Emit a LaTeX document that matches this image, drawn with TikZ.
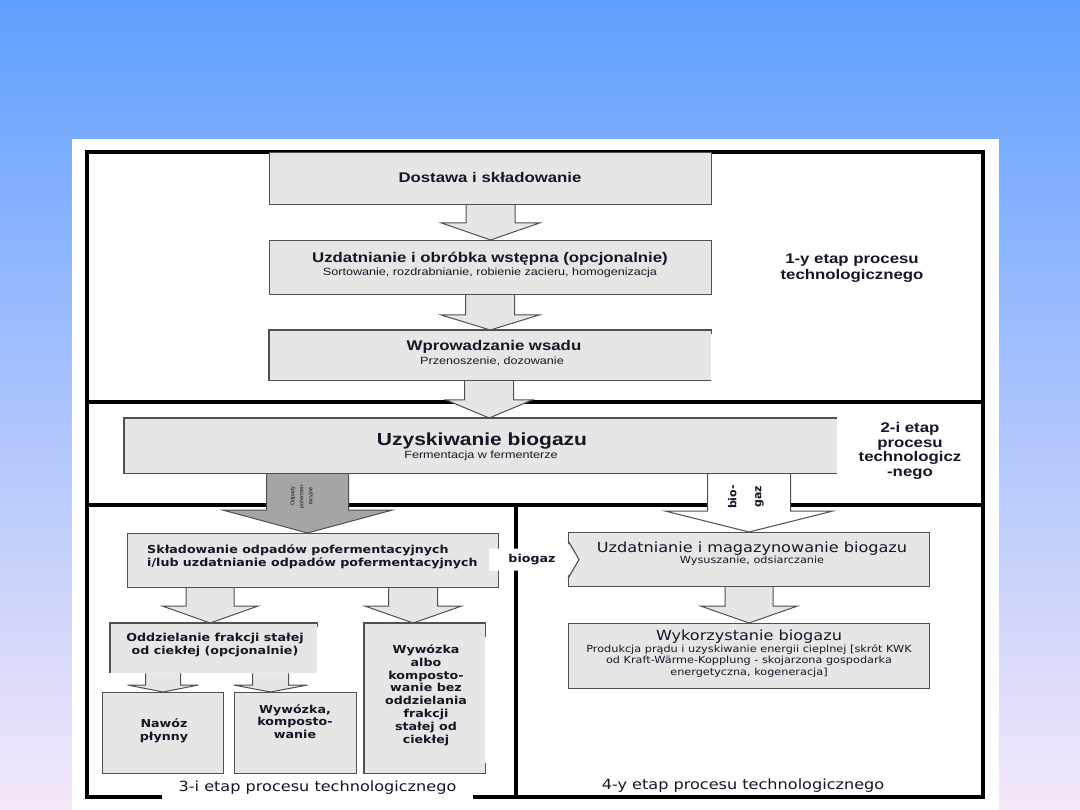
\documentclass[tikz,border=0pt]{standalone}
\usepackage{fontspec}
\setmainfont{Liberation Sans}
\newfontfamily\dv{DejaVu Sans}
\usetikzlibrary{calc}
\pgfdeclarelayer{bg}
\pgfdeclarelayer{arr}
\pgfsetlayers{bg,arr,main}
\definecolor{bgtop}{RGB}{95,159,255}
\definecolor{bgbot}{RGB}{245,232,250}
\definecolor{boxc}{RGB}{230,230,230}
\definecolor{bordc}{RGB}{80,80,80}
\definecolor{darkarr}{RGB}{165,165,165}
\definecolor{txt}{RGB}{22,22,40}
% #1 style, #2 from, #3 to, #4 half shaft, #5 half head, #6 head length, #7 tip x offset
\newcommand\blockarrow[7]{%
  \draw[#1] let \p1=(#2.south), \p2=($(#3.north)+(#7,0)$) in
   (\x2-#4pt,\y1) -- (\x2-#4pt,\y2+#6pt) -- (\x2-#5pt,\y2+#6pt) -- (\x2,\y2)
   -- (\x2+#5pt,\y2+#6pt) -- (\x2+#4pt,\y2+#6pt) -- (\x2+#4pt,\y1);}
\begin{document}
\begin{tikzpicture}[x=1pt,y=-1pt,
  frame/.style={draw=black,line width=4pt},
  box/.style={draw=bordc,fill=boxc,line width=1.1pt,inner sep=0pt,anchor=north west},
  boxf/.style={fill=boxc,inner sep=0pt,anchor=north west},
  bline/.style={draw=bordc,line width=1.1pt},
  barr/.style={fill=boxc,draw=bordc,line width=1pt},
  garr/.style={fill=darkarr,draw=bordc,line width=1pt},
  warr/.style={fill=white,draw=bordc,line width=1pt},
  ttl/.style={font=\bfseries\fontsize{14}{17}\selectfont,xscale=1.2,text=txt,inner sep=0pt},
  bigttl/.style={font=\bfseries\fontsize{17.5}{20}\selectfont,xscale=1.2,text=txt,inner sep=0pt},
  sub/.style={font=\fontsize{10.5}{12}\selectfont,xscale=1.2,text=txt,inner sep=0pt},
  stg/.style={font=\bfseries\fontsize{14}{16.5}\selectfont,xscale=1.2,align=center,text=txt,inner sep=0pt},
  stgb/.style={font=\bfseries\fontsize{14}{14.5}\selectfont,xscale=1.2,align=center,text=txt,inner sep=0pt},
  bt3/.style={font=\dv\bfseries\fontsize{11}{12.8}\selectfont,xscale=1.15,align=center,text=txt,inner sep=0pt},
  lt3/.style={font=\dv\bfseries\fontsize{11}{13}\selectfont,xscale=1.15,align=left,text=txt,inner sep=0pt},
  t4s/.style={font=\dv\fontsize{14}{16}\selectfont,xscale=1.15,text=txt,inner sep=0pt},
  s4s/.style={font=\dv\fontsize{9.8}{11.7}\selectfont,xscale=1.15,align=center,text=txt,inner sep=0pt},
  stlab/.style={font=\dv\fontsize{14}{16}\selectfont,xscale=1.15,text=txt,inner sep=0pt},
  rot/.style={rotate=90,align=center,text=txt,inner sep=0pt}]
\useasboundingbox (0,0) rectangle (1080,810);
\begin{pgfonlayer}{bg}
  \shade[top color=bgtop,bottom color=bgbot] (0,0) rectangle (1080,810);
  \fill[white] (72,139) rectangle (999,810);
  \draw[frame] (87,152) rectangle (983,402);
  \draw[frame] (87,402) rectangle (983,505);
  \draw[frame] (87,505) rectangle (516,797);
  \draw[frame] (516,505) rectangle (983,797);
\end{pgfonlayer}
% boxes
\node[box,minimum width=442pt,minimum height=52pt] (b1) at (269,152) {};
\node[box,minimum width=442pt,minimum height=54pt] (b2) at (269,240) {};
\node[boxf,minimum width=442pt,minimum height=50pt] (b3) at (269,330) {};
\draw[bline] ([yshift=-4pt]b3.north east) -- (b3.north east) -- (b3.north west) -- (b3.south west) -- (b3.south east);
\node[boxf,minimum width=713pt,minimum height=55pt] (b4) at (124,418) {};
\draw[bline] (b4.north east) -- (b4.north west) -- (b4.south west) -- (b4.south east);
\node[box,minimum width=371pt,minimum height=54pt] (b5) at (127,533) {};
\node[boxf,minimum width=207pt,minimum height=50pt] (b6) at (110,623) {};
\draw[bline] (b6.south west) -- (b6.north west) -- (b6.north east) -- ([yshift=-4pt]b6.north east);
\node[box,minimum width=121pt,minimum height=81pt] (b7) at (102,692) {};
\node[box,minimum width=122pt,minimum height=81pt] (b8) at (234,692) {};
\node[boxf,minimum width=121pt,minimum height=150pt] (b9) at (364,623) {};
\draw[bline] ([yshift=-14pt]b9.north east) -- (b9.north east) -- (b9.north west) -- (b9.south west) -- (b9.south east) -- ([yshift=10pt]b9.south east);
\node[box,minimum width=361pt,minimum height=54pt] (b10) at (568,532) {};
\node[box,minimum width=361pt,minimum height=65pt] (b11) at (568,623) {};
% block arrows
\begin{pgfonlayer}{arr}
  \blockarrow{barr}{b1}{b2}{24.5}{49}{17}{0}
  \blockarrow{barr}{b2}{b3}{24.5}{49}{15}{0}
  \blockarrow{barr}{b3}{b4}{24.5}{43}{18}{8.5}
  \blockarrow{garr}{b4}{b5}{41}{85}{23}{-5.5}
  \blockarrow{warr}{b4}{b10}{41.5}{84}{21}{0}
  \blockarrow{barr}{b5}{b6}{24}{48}{17}{-3.5}
  \blockarrow{barr}{b5}{b9}{24.5}{48.5}{17}{-11.5}
  \blockarrow{barr}{b6}{b7}{17.5}{35.5}{7}{0}
  \blockarrow{barr}{b6}{b8}{18}{37}{7}{-25}
  \blockarrow{barr}{b10}{b11}{24}{48.5}{17}{0}
\end{pgfonlayer}
% biogaz side arrow
\fill[white] let \p1=(b5.east), \p2=(b10.west) in
  (\x1-10pt,\y2+11pt) -- (\x2-2pt,\y2+11pt) -- (\x2-2pt,\y2+19pt) -- (\x2+11pt,\y2)
  -- (\x2-2pt,\y2-19pt) -- (\x2-2pt,\y2-11pt) -- (\x1-10pt,\y2-11pt) -- cycle;
\draw[bline] let \p2=(b10.west) in (\x2,\y2+19pt) -- (\x2+11pt,\y2) -- (\x2,\y2-19pt);
\node[font=\dv\bfseries\fontsize{11}{13}\selectfont,xscale=1.15,text=txt,inner sep=0pt] (bgl) at (532,560) {biogaz};
% texts
\node[ttl] (t1) at (490,177) {Dostawa i składowanie};
\node[ttl] (t2) at (490,259) {Uzdatnianie i obróbka wstępna (opcjonalnie)};
\node[sub] (s2) at (490,273) {Sortowanie, rozdrabnianie, robienie zacieru, homogenizacja};
\node[ttl] (t3) at (494,347) {Wprowadzanie wsadu};
\node[sub] (s3) at (492,361) {Przenoszenie, dozowanie};
\node[bigttl] (t4) at (482,441) {Uzyskiwanie biogazu};
\node[sub] (s4) at (481,456) {Fermentacja w fermenterze};
\node[stg] (L1) at (852,268) {1-y etap procesu\\technologicznego};
\node[stgb] (L2) at (910,451) {2-i etap\\procesu\\technologicz\\-nego};
\node[rot,font=\fontsize{5.5}{9}\selectfont] (ga) at (302,496) {Odpady\\pofermen-\\tacyjne};
\node[rot,font=\dv\bfseries\fontsize{11}{25}\selectfont] (bgz) at (746,497) {bio-\\gaz};
\node[lt3,anchor=west] (t5) at (147,556.5) {Składowanie odpadów pofermentacyjnych\\i/lub uzdatnianie odpadów pofermentacyjnych};
\node[bt3] (t6) at (215,645) {Oddzielanie frakcji stałej\\od ciekłej (opcjonalnie)};
\node[bt3] (t7) at (164,731) {Nawóz\\płynny};
\node[bt3] (t8) at (295,721.5) {Wywózka,\\komposto-\\wanie};
\node[bt3] (t9) at (426,695) {Wywózka\\albo\\komposto-\\wanie bez\\oddzielania\\frakcji\\stałej od\\ciekłej};
\node[stlab,fill=white,minimum width=270pt,minimum height=26pt] (L3) at (317.5,788) {3-i etap procesu technologicznego};
\node[t4s] (t10) at (752,549) {Uzdatnianie i magazynowanie biogazu};
\node[s4s] (s10) at (752,561) {Wysuszanie, odsiarczanie};
\node[t4s] (t11) at (749,637) {Wykorzystanie biogazu};
\node[s4s] (s11) at (749,661) {Produkcja prądu i uzyskiwanie energii cieplnej [skrót KWK\\od Kraft-Wärme-Kopplung - skojarzona gospodarka\\energetyczna, kogeneracja]};
\node[stlab] (L4) at (743,786) {4-y etap procesu technologicznego};
\end{tikzpicture}
\end{document}
